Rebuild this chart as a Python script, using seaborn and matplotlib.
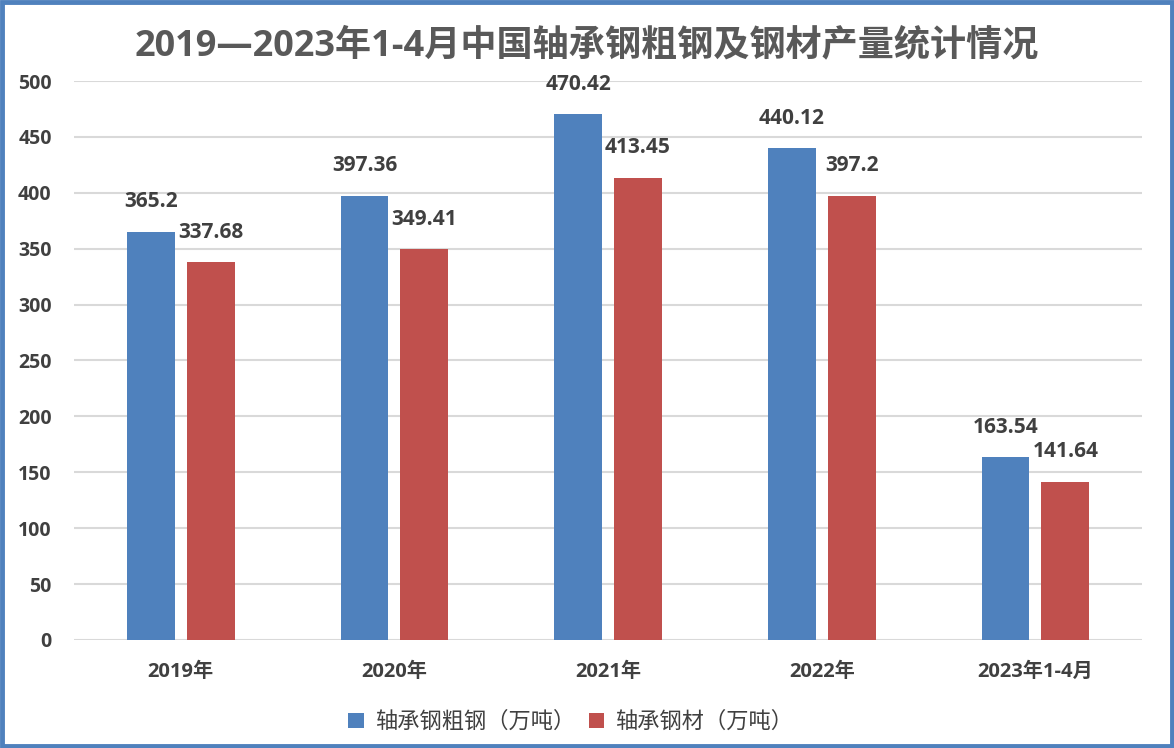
import pandas as pd
import seaborn as sns
import matplotlib.pyplot as plt
from matplotlib.patches import Rectangle

# chart data
years = ['2019年', '2020年', '2021年', '2022年', '2023年1-4月']
crude_steel = [365.2, 397.36, 470.42, 440.12, 163.54]
steel_products = [337.68, 349.41, 413.45, 397.2, 141.64]
series_names = ['轴承钢粗钢（万吨）', '轴承钢材（万吨）']

df = pd.DataFrame({
    'year': years * 2,
    'value': crude_steel + steel_products,
    'series': [series_names[0]] * len(years) + [series_names[1]] * len(years),
})

sns.set_style('white')
plt.rcParams['font.family'] = ['Open Sans', 'Noto Sans CJK SC', 'DejaVu Sans']

fig = plt.figure(figsize=(11.74, 7.48), dpi=100)
ax = fig.add_axes([0.063, 0.1444, 0.910, 0.7473])

colors = ['#4F81BD', '#C0504D']
sns.barplot(data=df, x='year', y='value', hue='series', palette=colors,
            width=0.56, gap=0.2, saturation=1, linewidth=0, ax=ax, legend=True)

ax.set_ylim(0, 500)
ax.set_yticks(range(0, 501, 50))
ax.yaxis.grid(True, color='#D9D9D9', linewidth=1.5)
ax.set_axisbelow(True)
for s in ax.spines.values():
    s.set_visible(False)
ax.tick_params(axis='both', length=0)
ax.tick_params(axis='y', pad=16)
ax.tick_params(axis='x', pad=16)
ax.set_xlabel('')
ax.set_ylabel('')
for lbl in ax.get_yticklabels():
    lbl.set_fontsize(14)
    lbl.set_fontweight('bold')
    lbl.set_color('#404040')
for lbl in ax.get_xticklabels():
    lbl.set_fontsize(14.5)
    lbl.set_fontweight('bold')
    lbl.set_color('#404040')

# value labels
for cont in ax.containers:
    ax.bar_label(cont, labels=[f'{v:g}' for v in cont.datavalues], padding=14,
                 fontsize=15, fontweight='bold', color='#404040')

ax.legend(loc='upper center', bbox_to_anchor=(0.465, -0.093), ncol=2, frameon=False,
          fontsize=16, handlelength=0.7, handleheight=0.7, handletextpad=0.5,
          columnspacing=0.6, labelcolor='#404040')

fig.suptitle('2019—2023年1-4月中国轴承钢粗钢及钢材产量统计情况', x=0.5, y=0.962,
             fontsize=26, fontweight='bold', color='#595959')

# blue frame round the figure
fig.patches.append(Rectangle((0.002, 0.003), 0.996, 0.994, transform=fig.transFigure,
                             fill=False, edgecolor='#4F81BD', linewidth=3.5))

fig.savefig('out.png', dpi=100)
